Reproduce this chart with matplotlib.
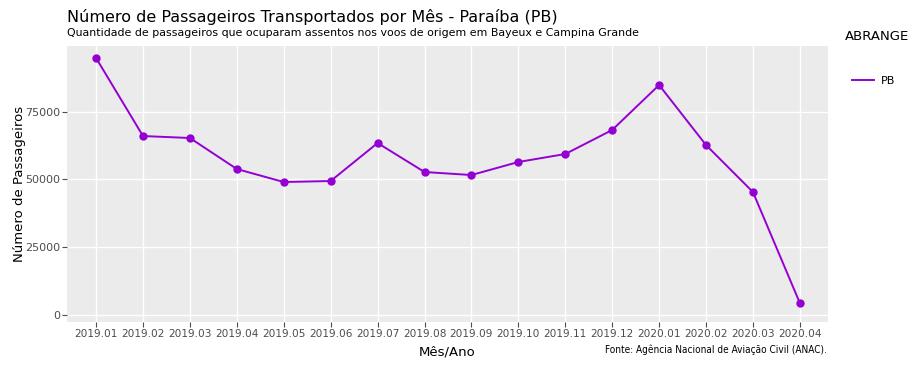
import matplotlib.pyplot as plt
from matplotlib.lines import Line2D

meses = ["2019.01", "2019.02", "2019.03", "2019.04", "2019.05", "2019.06",
         "2019.07", "2019.08", "2019.09", "2019.10", "2019.11", "2019.12",
         "2020.01", "2020.02", "2020.03", "2020.04"]
passageiros = [94760, 66000, 65270, 53830, 49040, 49410, 63420, 52730,
               51620, 56420, 59370, 68220, 84810, 62680, 45350, 4420]
yticks = [0, 25000, 50000, 75000]

W, H = 915, 366
fig = plt.figure(figsize=(W / 100, H / 100), dpi=100)
plt.rcParams['font.family'] = ['DejaVu Sans']

# panel in pixel coords: left 67, right 828, top 46, bottom 322
pl, pr, pt, pb = 67, 828, 46, 322
ax = fig.add_axes([pl / W, 1 - pb / H, (pr - pl) / W, (pb - pt) / H])
ax.set_facecolor("#ebebeb")
x = list(range(len(meses)))
ax.plot(x, passageiros, color="#9400d3", lw=1.4, marker="o", ms=5, label="PB")

ax.set_xlim(-0.62, len(meses) - 1 + 0.6)
ax.set_ylim(-2580, 99200)
ax.set_xticks(x)
ax.set_xticklabels(meses)
ax.set_yticks(yticks)
ax.set_yticklabels([str(v) for v in yticks])
ax.tick_params(axis="both", labelsize=8, colors="#4d4d4d", length=3.5, width=0.8, pad=1.5)
ax.tick_params(axis="x", labelsize=7.6)
ax.grid(True, color="white", lw=1.0)
ax.set_axisbelow(True)
for s in ax.spines.values():
    s.set_visible(False)

ax.set_xlabel("Mês/Ano", fontsize=9.5, va="center")
ax.xaxis.set_label_coords(((447 - pl) / (pr - pl)), (pb - 352) / (pb - pt))
ax.set_ylabel("Número de Passageiros", fontsize=9.5, va="center")
ax.yaxis.set_label_coords((20 - pl) / (pr - pl), 0.5)

fig.text(pl / W, 1 - 17 / H, "Número de Passageiros Transportados por Mês - Paraíba (PB)",
         fontsize=11.5, va="center", ha="left")
fig.text(pl / W, 1 - 33 / H,
         "Quantidade de passageiros que ocuparam assentos nos voos de origem em Bayeux e Campina Grande",
         fontsize=7.9, va="center", ha="left")
fig.text(827 / W, 1 - 350 / H, "Fonte: Agência Nacional de Aviação Civil (ANAC).",
         fontsize=7.2, va="center", ha="right", fontstretch="condensed")

fig.text(845 / W, 1 - 37 / H, "ABRANGE", fontsize=9.5, va="center", ha="left")
handle = Line2D([], [], color="#9400d3", lw=1.4)
fig.legend([handle], ["PB"], loc="center left", bbox_to_anchor=(842 / W, 1 - 81 / H),
           frameon=False, fontsize=8, handlelength=2.0, handletextpad=0.6)

fig.savefig("out.png", dpi=100)
